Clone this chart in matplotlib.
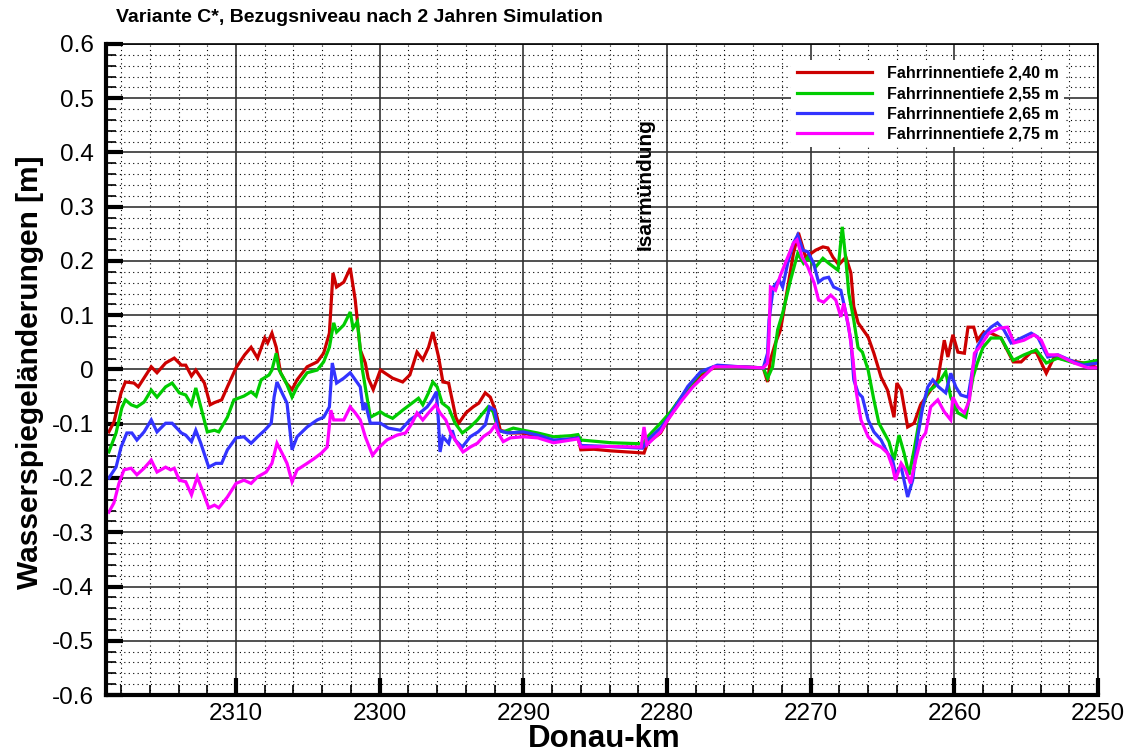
import matplotlib
matplotlib.use("Agg")
import matplotlib.pyplot as plt
from matplotlib.ticker import MultipleLocator, FixedLocator

plt.rcParams['font.family'] = ['Liberation Sans', 'DejaVu Sans']
plt.rcParams['axes.unicode_minus'] = False

# Donau-km / Wasserspiegeländerung [m], Fahrrinnentiefe 2,40 m
km_240 = [2318.85, 2318.5, 2318.0, 2317.7, 2317.1, 2316.8, 2315.9, 2315.5, 2314.9, 2314.3,
          2313.8, 2313.5, 2313.1, 2312.8, 2312.2, 2311.8, 2311.5, 2311.0, 2310.6, 2310.0,
          2309.4, 2308.95, 2308.5, 2308.0, 2307.8, 2307.5, 2307.2, 2306.9, 2306.5, 2306.1,
          2305.75, 2305.05, 2304.35, 2303.9, 2303.5, 2303.25, 2303.0, 2302.5, 2302.05, 2301.7,
          2301.35, 2301.0, 2300.8, 2300.45, 2299.95, 2299.1, 2298.4, 2297.9, 2297.4, 2297.0,
          2296.6, 2296.3, 2295.9, 2295.6, 2295.2, 2294.7, 2294.5, 2294.0, 2293.5, 2293.1,
          2292.65, 2292.3, 2291.95, 2291.6, 2290.9, 2290.0, 2289.0, 2287.9, 2286.7, 2286.2,
          2286.0, 2285.1, 2283.9, 2282.75, 2281.6, 2281.35, 2280.45, 2279.95, 2279.25, 2278.55,
          2277.65, 2276.75, 2276.05, 2274.9, 2273.3, 2273.0, 2272.8, 2272.45, 2272.1, 2271.6,
          2271.2, 2270.85, 2270.35, 2269.65, 2269.15, 2268.8, 2268.45, 2268.05, 2267.55, 2267.2,
          2267.0, 2266.7, 2266.0, 2265.6, 2265.1, 2264.65, 2264.2, 2264.0, 2263.7, 2263.25,
          2262.8, 2262.35, 2261.65, 2261.15, 2260.7, 2260.45, 2260.1, 2259.75, 2259.3, 2259.05,
          2258.65, 2258.4, 2257.95, 2257.45, 2256.75, 2255.9, 2255.35, 2254.65, 2254.3, 2253.6,
          2253.05, 2252.1, 2251.0, 2250.0]
dh_240 = [-0.115, -0.097, -0.043, -0.023, -0.025, -0.032, 0.005, -0.006, 0.012, 0.021,
          0.008, 0.008, -0.012, -0.001, -0.025, -0.065, -0.061, -0.056, -0.032, 0.003,
          0.027, 0.041, 0.021, 0.058, 0.049, 0.067, 0.041, -0.006, -0.025, -0.037,
          -0.019, 0.005, 0.014, 0.030, 0.067, 0.178, 0.152, 0.161, 0.187, 0.128,
          0.036, 0.012, -0.016, -0.037, -0.001, -0.016, -0.023, -0.010, 0.032, 0.018,
          0.041, 0.069, 0.023, -0.023, -0.025, -0.088, -0.099, -0.080, -0.069, -0.062,
          -0.043, -0.051, -0.075, -0.112, -0.117, -0.117, -0.124, -0.133, -0.128, -0.125,
          -0.148, -0.147, -0.150, -0.152, -0.154, -0.135, -0.117, -0.093, -0.062, -0.038,
          -0.010, 0.003, 0.006, 0.005, 0.003, -0.023, 0.018, 0.049, 0.073, 0.152,
          0.214, 0.252, 0.207, 0.220, 0.226, 0.224, 0.207, 0.193, 0.207, 0.178,
          0.116, 0.086, 0.060, 0.030, -0.014, -0.038, -0.088, -0.025, -0.038, -0.106,
          -0.099, -0.065, -0.038, -0.019, 0.054, 0.023, 0.064, 0.032, 0.030, 0.078,
          0.078, 0.054, 0.069, 0.067, 0.058, 0.014, 0.014, 0.032, 0.032, -0.007,
          0.023, 0.017, 0.012, 0.003]

# Fahrrinnentiefe 2,55 m
km_255 = [2318.85, 2318.35, 2317.95, 2317.7, 2317.3, 2316.9, 2316.4, 2315.9, 2315.5, 2314.9,
          2314.45, 2313.95, 2313.5, 2313.1, 2312.8, 2312.45, 2312.0, 2311.5, 2311.2, 2310.6,
          2310.15, 2309.45, 2308.95, 2308.6, 2308.25, 2307.7, 2307.5, 2307.2, 2307.0, 2306.5,
          2306.1, 2305.75, 2305.05, 2304.35, 2303.9, 2303.5, 2303.2, 2303.0, 2302.5, 2302.05,
          2301.85, 2301.55, 2301.2, 2300.85, 2300.65, 2299.95, 2299.6, 2299.1, 2298.4, 2297.9,
          2297.3, 2297.0, 2296.6, 2296.3, 2296.0, 2295.65, 2295.2, 2294.75, 2294.25, 2293.7,
          2293.2, 2292.8, 2292.45, 2292.1, 2291.75, 2291.4, 2290.7, 2290.0, 2289.0, 2287.9,
          2286.7, 2286.2, 2286.0, 2283.9, 2281.7, 2281.35, 2280.45, 2279.75, 2278.55, 2277.65,
          2276.75, 2274.9, 2273.3, 2273.0, 2272.65, 2272.3, 2271.95, 2271.4, 2270.9, 2270.5,
          2270.2, 2269.65, 2269.15, 2268.75, 2268.1, 2267.8, 2267.55, 2267.35, 2267.0, 2266.7,
          2266.4, 2266.0, 2265.6, 2265.25, 2264.55, 2264.2, 2263.85, 2263.5, 2263.15, 2262.8,
          2262.35, 2261.85, 2261.4, 2260.95, 2260.6, 2260.25, 2259.75, 2259.2, 2258.7, 2258.4,
          2258.0, 2257.45, 2256.75, 2255.9, 2255.15, 2254.3, 2253.6, 2252.8, 2251.65, 2251.0,
          2250.0]
dh_255 = [-0.152, -0.117, -0.071, -0.056, -0.065, -0.069, -0.060, -0.038, -0.051, -0.032,
          -0.025, -0.043, -0.047, -0.065, -0.034, -0.069, -0.115, -0.112, -0.115, -0.088,
          -0.056, -0.049, -0.041, -0.049, -0.019, -0.010, -0.001, 0.030, -0.001, -0.025,
          -0.051, -0.032, -0.006, -0.001, 0.014, 0.041, 0.086, 0.069, 0.082, 0.106,
          0.076, 0.088, -0.001, -0.056, -0.088, -0.078, -0.084, -0.090, -0.075, -0.065,
          -0.053, -0.065, -0.043, -0.023, -0.032, -0.062, -0.071, -0.099, -0.117, -0.106,
          -0.093, -0.080, -0.069, -0.078, -0.112, -0.115, -0.108, -0.112, -0.117, -0.124,
          -0.122, -0.120, -0.130, -0.135, -0.137, -0.124, -0.099, -0.078, -0.034, -0.006,
          0.005, 0.005, 0.003, -0.016, 0.005, 0.073, 0.104, 0.165, 0.214, 0.196,
          0.207, 0.189, 0.205, 0.196, 0.183, 0.263, 0.202, 0.141, 0.091, 0.040,
          0.032, -0.001, -0.056, -0.099, -0.133, -0.167, -0.121, -0.154, -0.194, -0.148,
          -0.080, -0.041, -0.032, -0.019, -0.004, -0.051, -0.080, -0.088, -0.014, 0.012,
          0.041, 0.058, 0.058, 0.017, 0.027, 0.036, 0.012, 0.021, 0.012, 0.012,
          0.017]

# Fahrrinnentiefe 2,65 m
km_265 = [2318.85, 2318.35, 2318.0, 2317.6, 2317.25, 2316.9, 2316.4, 2315.9, 2315.5, 2314.9,
          2314.45, 2313.8, 2313.5, 2313.1, 2312.8, 2312.45, 2311.9, 2311.4, 2311.0, 2310.6,
          2310.0, 2309.45, 2308.95, 2308.5, 2308.0, 2307.55, 2307.35, 2307.15, 2306.8, 2306.45,
          2306.1, 2305.75, 2305.05, 2304.35, 2303.9, 2303.5, 2303.3, 2303.0, 2302.5, 2302.05,
          2301.7, 2301.35, 2301.15, 2301.0, 2300.65, 2299.95, 2299.4, 2298.55, 2297.9, 2297.2,
          2296.7, 2296.35, 2296.05, 2295.9, 2295.8, 2295.6, 2295.2, 2294.95, 2294.75, 2294.25,
          2293.7, 2293.15, 2292.65, 2292.35, 2292.0, 2291.75, 2291.1, 2290.0, 2289.0, 2287.9,
          2286.7, 2286.2, 2286.0, 2283.9, 2281.7, 2281.35, 2280.45, 2279.75, 2278.55, 2277.65,
          2276.5, 2274.9, 2273.3, 2273.0, 2272.9, 2272.6, 2272.2, 2271.95, 2271.6, 2271.2,
          2270.9, 2270.55, 2270.2, 2269.8, 2269.45, 2269.1, 2268.75, 2268.4, 2267.9, 2267.55,
          2267.2, 2267.0, 2266.7, 2266.4, 2266.0, 2265.6, 2265.1, 2264.65, 2264.3, 2264.1,
          2263.7, 2263.4, 2263.25, 2262.9, 2262.55, 2262.2, 2261.85, 2261.5, 2261.1, 2260.6,
          2260.25, 2259.9, 2259.55, 2259.05, 2258.7, 2258.4, 2257.95, 2257.45, 2257.0, 2256.55,
          2256.05, 2255.35, 2254.65, 2254.2, 2253.5, 2252.8, 2251.65, 2251.0, 2250.0]
dh_265 = [-0.200, -0.180, -0.143, -0.117, -0.117, -0.130, -0.115, -0.093, -0.115, -0.099,
          -0.099, -0.117, -0.121, -0.133, -0.112, -0.136, -0.180, -0.173, -0.173, -0.148,
          -0.126, -0.124, -0.136, -0.124, -0.112, -0.099, -0.051, -0.023, -0.043, -0.062,
          -0.148, -0.124, -0.106, -0.093, -0.088, -0.069, 0.012, -0.025, -0.016, -0.006,
          -0.019, -0.032, -0.075, -0.062, -0.099, -0.099, -0.108, -0.112, -0.093, -0.080,
          -0.069, -0.056, -0.041, -0.099, -0.152, -0.124, -0.136, -0.112, -0.130, -0.143,
          -0.124, -0.115, -0.102, -0.069, -0.075, -0.112, -0.117, -0.115, -0.121, -0.130,
          -0.128, -0.126, -0.140, -0.142, -0.145, -0.130, -0.108, -0.083, -0.031, -0.004,
          0.008, 0.005, 0.003, 0.030, 0.091, 0.152, 0.165, 0.152, 0.196, 0.233,
          0.248, 0.220, 0.217, 0.196, 0.161, 0.168, 0.170, 0.152, 0.146, 0.104,
          0.054, -0.019, -0.043, -0.051, -0.093, -0.115, -0.130, -0.154, -0.167, -0.191,
          -0.180, -0.217, -0.235, -0.204, -0.124, -0.069, -0.032, -0.019, -0.032, -0.043,
          -0.007, -0.032, -0.047, -0.051, 0.005, 0.041, 0.064, 0.078, 0.086, 0.073,
          0.049, 0.058, 0.067, 0.060, 0.023, 0.027, 0.014, 0.008, 0.012]

# Fahrrinnentiefe 2,75 m
km_275 = [2318.85, 2318.5, 2318.15, 2317.8, 2317.3, 2316.9, 2316.4, 2315.9, 2315.5, 2314.9,
          2314.55, 2314.3, 2313.95, 2313.5, 2313.1, 2312.7, 2312.35, 2311.9, 2311.5, 2311.2,
          2310.6, 2310.0, 2309.45, 2308.95, 2308.5, 2307.9, 2307.5, 2307.15, 2306.8, 2306.45,
          2306.1, 2305.75, 2305.05, 2304.55, 2304.05, 2303.65, 2303.4, 2303.2, 2302.5, 2302.05,
          2301.7, 2301.35, 2301.0, 2300.5, 2300.1, 2299.5, 2298.8, 2298.2, 2297.75, 2297.4,
          2297.0, 2296.6, 2296.1, 2295.8, 2295.4, 2295.05, 2294.6, 2294.2, 2293.7, 2293.2,
          2292.8, 2292.3, 2291.95, 2291.75, 2291.4, 2290.9, 2290.0, 2289.0, 2287.9, 2286.7,
          2286.2, 2286.0, 2283.9, 2281.8, 2281.6, 2281.4, 2280.45, 2279.95, 2279.0, 2278.2,
          2276.75, 2274.9, 2273.3, 2273.0, 2272.9, 2272.8, 2272.45, 2272.1, 2271.6, 2271.2,
          2270.95, 2270.6, 2270.2, 2269.75, 2269.45, 2269.1, 2268.6, 2268.25, 2267.9, 2267.7,
          2267.35, 2267.05, 2266.85, 2266.5, 2266.0, 2265.6, 2265.1, 2264.65, 2264.3, 2264.1,
          2263.7, 2263.4, 2263.05, 2262.7, 2262.35, 2262.0, 2261.65, 2261.15, 2260.7, 2260.25,
          2260.1, 2259.75, 2259.3, 2258.95, 2258.6, 2258.25, 2257.6, 2256.9, 2256.3, 2255.85,
          2255.15, 2254.45, 2253.95, 2253.5, 2252.8, 2251.65, 2250.7, 2250.0]
dh_275 = [-0.263, -0.246, -0.210, -0.185, -0.182, -0.194, -0.182, -0.167, -0.189, -0.180,
          -0.185, -0.182, -0.204, -0.207, -0.231, -0.198, -0.222, -0.255, -0.250, -0.255,
          -0.235, -0.210, -0.204, -0.210, -0.198, -0.189, -0.173, -0.136, -0.154, -0.173,
          -0.207, -0.185, -0.173, -0.164, -0.154, -0.143, -0.075, -0.093, -0.093, -0.069,
          -0.080, -0.093, -0.124, -0.158, -0.145, -0.130, -0.121, -0.117, -0.099, -0.080,
          -0.093, -0.080, -0.065, -0.080, -0.093, -0.117, -0.136, -0.152, -0.143, -0.136,
          -0.124, -0.115, -0.102, -0.117, -0.133, -0.126, -0.124, -0.126, -0.135, -0.130,
          -0.128, -0.143, -0.142, -0.143, -0.106, -0.139, -0.115, -0.093, -0.058, -0.032,
          0.005, 0.005, 0.003, 0.012, 0.060, 0.152, 0.146, 0.174, 0.207, 0.233,
          0.239, 0.207, 0.189, 0.159, 0.128, 0.124, 0.137, 0.128, 0.097, 0.122,
          0.078, 0.018, -0.038, -0.093, -0.124, -0.136, -0.143, -0.154, -0.180, -0.204,
          -0.173, -0.185, -0.210, -0.167, -0.130, -0.117, -0.069, -0.056, -0.078, -0.093,
          -0.051, -0.069, -0.080, -0.056, 0.030, 0.041, 0.067, 0.076, 0.078, 0.049,
          0.054, 0.064, 0.054, 0.027, 0.027, 0.012, 0.003, 0.003]

series_labels = ['Fahrrinnentiefe 2,40 m', 'Fahrrinnentiefe 2,55 m',
                 'Fahrrinnentiefe 2,65 m', 'Fahrrinnentiefe 2,75 m']
series_colors = ['#cc0000', '#00cc00', '#3333ff', '#ff00ff']

x_ticks = [2310, 2300, 2290, 2280, 2270, 2260, 2250]
y_ticks = [-0.6, -0.5, -0.4, -0.3, -0.2, -0.1, 0, 0.1, 0.2, 0.3, 0.4, 0.5, 0.6]
y_tick_labels = ['-0.6', '-0.5', '-0.4', '-0.3', '-0.2', '-0.1', '0',
                 '0.1', '0.2', '0.3', '0.4', '0.5', '0.6']

fig = plt.figure(figsize=(11.34, 7.53), dpi=100)
ax = fig.add_axes([106 / 1134, 1 - 695 / 753, 992 / 1134, 651 / 753])

series = [(km_240, dh_240), (km_255, dh_255), (km_265, dh_265), (km_275, dh_275)]
for (xs, ys), lab, col in zip(series, series_labels, series_colors):
    ax.plot(xs, ys, color=col, lw=2.3, label=lab, solid_joinstyle='miter')

ax.set_xlim(2319.05, 2250)
ax.set_ylim(-0.6, 0.6)
ax.xaxis.set_major_locator(FixedLocator(x_ticks))
ax.xaxis.set_minor_locator(MultipleLocator(2))
ax.set_yticks(y_ticks)
ax.set_yticklabels(y_tick_labels)
ax.yaxis.set_minor_locator(MultipleLocator(0.02))

ax.grid(which='major', color='#333333', lw=1.2, ls='-')
ax.grid(which='minor', color='black', lw=0.8, ls=(0, (1, 3)))
ax.set_axisbelow(True)

ax.tick_params(which='both', direction='in', top=False, right=False, labelsize=17.5)
ax.tick_params(which='major', length=12, width=3)
ax.tick_params(which='minor', length=7, width=1.2)
ax.tick_params(axis='y', pad=9)
ax.tick_params(axis='x', pad=6)

for side in ['left', 'bottom']:
    ax.spines[side].set_linewidth(3)
for side in ['top', 'right']:
    ax.spines[side].set_linewidth(1.2)

ax.text(2281.55, 0.22, 'Isarmündung', rotation=90, ha='center', va='bottom',
        fontsize=15, fontweight='bold')

leg = ax.legend(loc='upper left', bbox_to_anchor=(0.6905, 0.975), borderaxespad=0,
                frameon=True, fancybox=False, edgecolor='none', framealpha=1,
                prop={'size': 11.5, 'weight': 'bold'}, handlelength=4.75,
                handletextpad=0.9, labelspacing=0.33, borderpad=0.35)

fig.text(116 / 1134, 1 - 18 / 753, 'Variante C*, Bezugsniveau nach 2 Jahren Simulation',
         fontsize=14, fontweight='bold', ha='left', va='center')
fig.text(30 / 1134, 1 - 372 / 753, 'Wasserspiegeländerungen [m]', rotation=90,
         fontsize=21.5, fontweight='bold', ha='center', va='center')
fig.text(604 / 1134, 1 - 739 / 753, 'Donau-km', fontsize=22.5, fontweight='bold',
         ha='center', va='center')

fig.savefig('out.png', dpi=100)
